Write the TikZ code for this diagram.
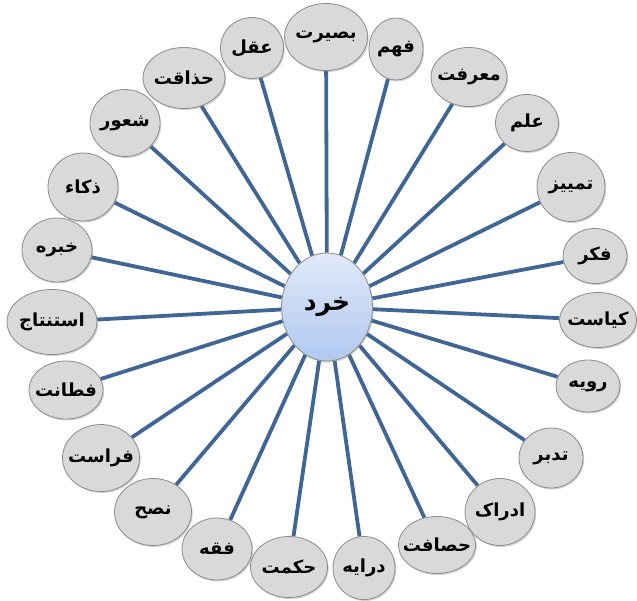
\documentclass[tikz,border=0pt]{standalone}
\usepackage{fontspec}
\TeXXeTstate=1
\newfontfamily\arabicfont[Script=Arabic]{DejaVu Sans}
\usetikzlibrary{shapes.geometric,shadows,backgrounds}
\newcommand{\fa}[1]{\makebox[0pt][c]{\arabicfont\bfseries\beginR #1\endR}}
\definecolor{linkblue}{RGB}{64,102,150}
\definecolor{leafgray}{RGB}{217,217,217}
\definecolor{leafedge}{RGB}{140,140,140}
\definecolor{ctop}{RGB}{224,233,249}
\definecolor{cbot}{RGB}{176,200,240}
\tikzset{
  leaf/.style={ellipse, inner sep=0pt, fill=leafgray, draw=leafedge, line width=0.8pt,
    font=\fontsize{18}{20}\selectfont,
    drop shadow={shadow xshift=1.2pt, shadow yshift=-1.5pt, opacity=0.35}},
  hub/.style={ellipse, inner sep=0pt, top color=ctop, bottom color=cbot, draw=leafedge, line width=0.8pt,
    font=\fontsize{25}{27}\selectfont, minimum width=91pt, minimum height=108pt,
    drop shadow={shadow xshift=1.2pt, shadow yshift=-1.5pt, opacity=0.35}},
  link/.style={draw=linkblue, line width=3.8pt}
}
\begin{document}
\begin{tikzpicture}[x=1pt,y=1pt]
\useasboundingbox (0,0) rectangle (637,-600);
\node[hub] (c) at (327,-307) {\fa{خرد}};
\node[leaf, minimum width=83pt, minimum height=67pt] (n1) at (326,-37) {\fa{بصیرت}};
\node[leaf, minimum width=54pt, minimum height=62pt] (n2) at (396,-49) {\fa{فهم}};
\node[leaf, minimum width=76pt, minimum height=59pt] (n3) at (469,-77) {\fa{معرفت}};
\node[leaf, minimum width=63pt, minimum height=57pt] (n4) at (527,-123) {\fa{علم}};
\node[leaf, minimum width=68pt, minimum height=69pt] (n5) at (571,-187) {\fa{تمییز}};
\node[leaf, minimum width=64pt, minimum height=55pt] (n6) at (595,-256) {\fa{فکر}};
\node[leaf, minimum width=77pt, minimum height=55pt] (n7) at (598,-320) {\fa{کیاست}};
\node[leaf, minimum width=64pt, minimum height=52pt] (n8) at (588,-386) {\fa{رویه}};
\node[leaf, minimum width=64pt, minimum height=60pt] (n9) at (551,-458) {\fa{تدبر}};
\node[leaf, minimum width=70pt, minimum height=67pt] (n10) at (500,-512) {\fa{ادراک}};
\node[leaf, minimum width=77pt, minimum height=57pt] (n11) at (437,-545) {\fa{حصافت}};
\node[leaf, minimum width=62pt, minimum height=63pt] (n12) at (364,-568) {\fa{درایه}};
\node[leaf, minimum width=77pt, minimum height=61pt] (n13) at (289,-567) {\fa{حکمت}};
\node[leaf, minimum width=70pt, minimum height=62pt] (n14) at (217,-549) {\fa{فقه}};
\node[leaf, minimum width=77pt, minimum height=67pt] (n15) at (153,-512) {\fa{نصح}};
\node[leaf, minimum width=77pt, minimum height=67pt] (n16) at (101,-458) {\fa{فراست}};
\node[leaf, minimum width=74pt, minimum height=58pt] (n17) at (66,-390) {\fa{فطانت}};
\node[leaf, minimum width=90pt, minimum height=65pt] (n18) at (52,-322) {\fa{استنتاج}};
\node[leaf, minimum width=70pt, minimum height=64pt] (n19) at (57,-250) {\fa{خبره}};
\node[leaf, minimum width=70pt, minimum height=68pt] (n20) at (83,-187) {\fa{ذکاء}};
\node[leaf, minimum width=70pt, minimum height=67pt] (n21) at (125,-123) {\fa{شعور}};
\node[leaf, minimum width=82pt, minimum height=61pt] (n22) at (184,-78) {\fa{حذاقت}};
\node[leaf, minimum width=63pt, minimum height=61pt] (n23) at (252,-48) {\fa{عقل}};
\begin{scope}[on background layer]
\foreach \i in {1,...,23} { \draw[link] (c) -- (n\i); }
\end{scope}
\end{tikzpicture}
\end{document}
